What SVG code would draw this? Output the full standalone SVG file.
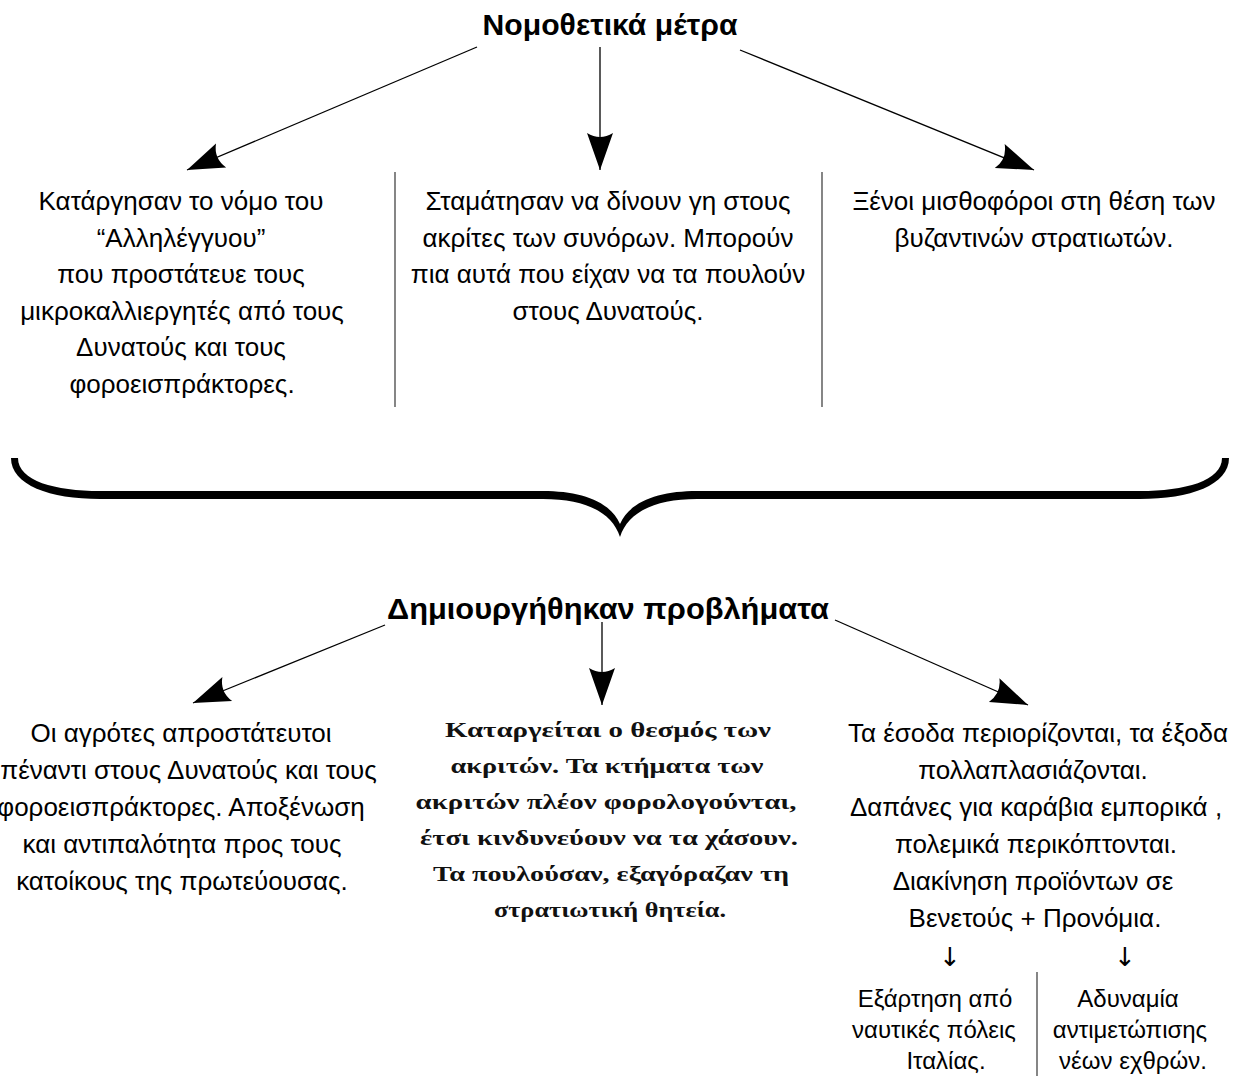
<svg xmlns="http://www.w3.org/2000/svg" width="1247" height="1076" viewBox="0 0 1247 1076">
<style>
  .t { font-family: "Liberation Sans", Arial, sans-serif; font-size: 26px; fill: #000; text-anchor: middle; }
  .s { font-family: "Liberation Sans", Arial, sans-serif; font-size: 24px; fill: #000; text-anchor: middle; }
  .ar { font-family: "DejaVu Sans", sans-serif; font-size: 26px; fill: #000; text-anchor: middle; }
  .h { font-family: "Liberation Sans", Arial, sans-serif; font-size: 30px; font-weight: bold; fill: #000; text-anchor: middle; }
  .g { font-family: "Liberation Serif", "Times New Roman", serif; font-size: 22px; font-weight: bold; fill: #111; text-anchor: middle; }
  .conn { stroke: #000; stroke-width: 1.3; fill: none; }
  .sep { stroke: #444; stroke-width: 1.3; fill: none; }
</style>
<defs>
  <marker id="ah" viewBox="-40 -16 42 32" markerWidth="42" markerHeight="32" refX="0" refY="0" orient="auto" markerUnits="userSpaceOnUse">
    <path d="M0,0 L-37,-13 Q-29,0 -37,13 Z" fill="#000"/>
  </marker>
</defs>
<rect width="1247" height="1076" fill="#fff"/>

<g id="title1"><text class="h" x="610" y="35" textLength="255" lengthAdjust="spacingAndGlyphs">Νομοθετικά μέτρα</text></g>

<g id="measure1">
  <text class="t" x="181" y="210">Κατάργησαν το νόμο του</text>
  <text class="t" x="181" y="247">“Αλληλέγγυου”</text>
  <text class="t" x="181" y="283">που προστάτευε τους</text>
  <text class="t" x="182" y="320">μικροκαλλιεργητές από τους</text>
  <text class="t" x="181" y="356">Δυνατούς και τους</text>
  <text class="t" x="182" y="393">φοροεισπράκτορες.</text>
</g>
<g id="measure2">
  <text class="t" x="608" y="210">Σταμάτησαν να δίνουν γη στους</text>
  <text class="t" x="608" y="247">ακρίτες των συνόρων. Μπορούν</text>
  <text class="t" x="608" y="283">πια αυτά που είχαν να τα πουλούν</text>
  <text class="t" x="608" y="320">στους Δυνατούς.</text>
</g>
<g id="measure3">
  <text class="t" x="1034" y="210">Ξένοι μισθοφόροι στη θέση των</text>
  <text class="t" x="1034" y="247">βυζαντινών στρατιωτών.</text>
</g>

<g id="brace">
  <path d="M11,458 C11,485 50,499 100,499 L543,499 C585,499 612,512 620,537 C628,512 655,499 697,499 L1140,499 C1190,499 1229,485 1229,458 L1222,458 C1222,481 1185,491 1140,491 L697,491 C660,491 630,501 620,524 C610,501 580,491 543,491 L100,491 C55,491 18,481 18,458 Z" fill="#000"/>
</g>

<g id="title2"><text class="h" x="608" y="619" textLength="442" lengthAdjust="spacingAndGlyphs">Δημιουργήθηκαν προβλήματα</text></g>

<g id="problem1">
  <text class="t" x="181" y="742">Οι αγρότες απροστάτευτοι</text>
  <text class="t" x="181" y="779">απέναντι στους Δυνατούς και τους</text>
  <text class="t" x="181" y="816">φοροεισπράκτορες. Αποξένωση</text>
  <text class="t" x="182" y="853">και αντιπαλότητα προς τους</text>
  <text class="t" x="182" y="890">κατοίκους της πρωτεύουσας.</text>
</g>
<g id="problem2">
  <text class="g" x="608" y="737" textLength="326" lengthAdjust="spacingAndGlyphs">Καταργείται ο θεσμός των</text>
  <text class="g" x="607" y="773" textLength="313" lengthAdjust="spacingAndGlyphs">ακριτών. Τα κτήματα των</text>
  <text class="g" x="606" y="809" textLength="381" lengthAdjust="spacingAndGlyphs">ακριτών πλέον φορολογούνται,</text>
  <text class="g" x="609" y="845" textLength="378" lengthAdjust="spacingAndGlyphs">έτσι κινδυνεύουν να τα χάσουν.</text>
  <text class="g" x="611" y="881" textLength="356" lengthAdjust="spacingAndGlyphs">Τα πουλούσαν, εξαγόραζαν τη</text>
  <text class="g" x="610" y="917" textLength="232" lengthAdjust="spacingAndGlyphs">στρατιωτική θητεία.</text>
</g>
<g id="problem3">
  <text class="t" x="1038" y="742">Τα έσοδα περιορίζονται, τα έξοδα</text>
  <text class="t" x="1033" y="779">πολλαπλασιάζονται.</text>
  <text class="t" x="1036" y="816">Δαπάνες για καράβια εμπορικά ,</text>
  <text class="t" x="1036" y="853">πολεμικά περικόπτονται.</text>
  <text class="t" x="1033" y="890">Διακίνηση προϊόντων σε</text>
  <text class="t" x="1035" y="927">Βενετούς + Προνόμια.</text>
  <text class="ar" x="950" y="966">↓</text>
  <text class="ar" x="1125" y="966">↓</text>
</g>
<g id="consequence1">
  <text class="s" x="935" y="1007">Εξάρτηση από</text>
  <text class="s" x="934" y="1038">ναυτικές πόλεις</text>
  <text class="s" x="946" y="1069">Ιταλίας.</text>
</g>
<g id="consequence2">
  <text class="s" x="1128" y="1007">Αδυναμία</text>
  <text class="s" x="1130" y="1038">αντιμετώπισης</text>
  <text class="s" x="1133" y="1069">νέων εχθρών.</text>
</g>

<g id="separators">
  <line class="sep" x1="395" y1="172" x2="395" y2="407"/>
  <line class="sep" x1="822" y1="172" x2="822" y2="407"/>
  <line class="sep" x1="1037" y1="972" x2="1037" y2="1076"/>
</g>

<g id="connectors">
  <line class="conn" x1="477" y1="47" x2="187" y2="170" marker-end="url(#ah)"/>
  <line class="conn" x1="600" y1="47" x2="600" y2="170" marker-end="url(#ah)"/>
  <line class="conn" x1="740" y1="50" x2="1034" y2="170" marker-end="url(#ah)"/>
  <line class="conn" x1="385" y1="625" x2="193" y2="703" marker-end="url(#ah)"/>
  <line class="conn" x1="602" y1="622" x2="602" y2="705" marker-end="url(#ah)"/>
  <line class="conn" x1="835" y1="620" x2="1028" y2="705" marker-end="url(#ah)"/>
</g>
</svg>
